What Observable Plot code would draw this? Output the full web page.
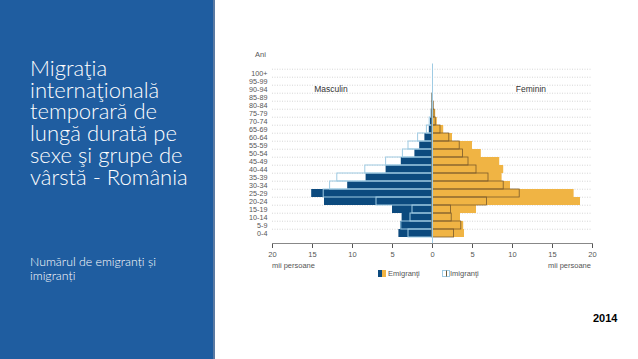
<!DOCTYPE html>
<html><head><meta charset="utf-8">
<script src="https://cdn.jsdelivr.net/npm/d3@7"></script>
<script src="https://cdn.jsdelivr.net/npm/@observablehq/plot@0.6"></script>
<style>
body{margin:0;width:638px;height:359px;position:relative;overflow:hidden;background:#fff;font-family:"Liberation Sans",Arial,sans-serif}
#panel{position:absolute;left:0;top:0;width:213px;height:359px;background:#1f5da0;border-right:2px solid #5a7aa3}
#title{position:absolute;left:30px;top:57px;color:#fff;font-family:Lato,"Open Sans",sans-serif;font-weight:300;font-size:22px;line-height:21.7px;white-space:nowrap}
#sub{position:absolute;left:30px;top:255px;color:#fff;font-family:Lato,"Open Sans",sans-serif;font-weight:300;font-size:12.3px;line-height:14.3px;white-space:nowrap}
#chart{position:absolute;left:230px;top:40px}
.lab{position:absolute;font-size:7.5px;color:#555;white-space:nowrap}
#year{position:absolute;left:593px;top:312px;font-size:11px;font-weight:bold;color:#000;font-family:"Liberation Sans",Arial,sans-serif}
.sw{display:inline-block;width:4px;height:7px;vertical-align:-1px}
</style></head>
<body>
<div id="panel"></div>
<div id="title">Migraţia<br>internaţională<br>temporară de<br>lungă durată pe<br>sexe şi grupe de<br>vârstă - România</div>
<div id="sub">Numărul de emigranți și<br>imigranți</div>
<div id="chart"></div>
<div class="lab" style="left:255px;top:50px">Ani</div>
<div class="lab" style="left:272px;top:261px">mii persoane</div>
<div class="lab" style="left:548px;top:261px">mii persoane</div>
<div class="lab" style="left:378px;top:269px"><span class="sw" style="background:#0c4a7e"></span><span class="sw" style="background:#f0b444"></span> Emigranţi</div>
<div class="lab" style="left:442px;top:269px"><span class="sw" style="box-sizing:border-box;border:1px solid #9fcbe3;border-right:none"></span><span class="sw" style="box-sizing:border-box;border:1px solid #9fcbe3;border-left:1px solid #6b5a3a"></span>Imigranţi</div>
<div id="year">2014</div>
<script>
const ages = ["0-4","5-9","10-14","15-19","20-24","25-29","30-34","35-39","40-44","45-49","50-54","55-59","60-64","65-69","70-74","75-79","80-84","85-89","90-94","95-99","100+"];
const maleEmigrants   = [4.2,4.0,3.8,5.0,13.5,15.1,10.6,8.3,5.8,3.9,2.2,1.6,0.95,0.4,0.25,0.12,0.05,0.02,0,0,0];
const maleImmigrants  = [3.0,3.9,2.75,2.5,7.0,13.6,12.8,11.9,8.4,5.8,3.7,3.0,1.8,0.7,0.35,0.15,0.05,0.02,0,0,0];
const femaleEmigrants = [4.0,3.9,3.5,5.5,18.5,17.7,9.75,8.7,8.9,8.4,6.1,5.0,2.5,1.4,0.6,0.4,0.15,0.05,0,0,0];
const femaleImmigrants= [2.7,3.6,2.4,2.3,6.8,10.9,8.9,7.0,5.5,4.5,3.8,3.4,2.1,1.0,0.4,0.25,0.15,0.03,0,0,0];
const xTicks = [-20,-15,-10,-5,0,5,10,15,20];
const sexLabels = [{x:-12.7, age:"90-94", text:"Masculin"},{x:12.3, age:"90-94", text:"Feminin"}];

const rows = ages.map((a,i)=>({age:a, me:-maleEmigrants[i], mi:-maleImmigrants[i], fe:femaleEmigrants[i], fi:femaleImmigrants[i]}));
const mT = 23.5, mB = 47, H = 250;
const bw = (H - mT - mB) / ages.length;

const plot = Plot.plot({
  width: 380, height: H,
  marginLeft: 42, marginRight: 18, marginTop: mT, marginBottom: mB,
  style: {fontFamily: '"Liberation Sans", Arial, sans-serif', background: "transparent"},
  x: {domain: [-20, 20]},
  y: {type: "band", domain: ages.slice().reverse(), padding: 0},
  marks: [
    Plot.ruleY(ages, {y: d => d, dy: -bw/2, stroke: "#ccc", strokeDasharray: "1,1.5", strokeWidth: 0.8}),
    Plot.barX(rows, {y: "age", x: "me", fill: "#0c4a7e", inset: 0}),
    Plot.barX(rows, {y: "age", x: "fe", fill: "#f0b444", inset: 0}),
    Plot.barX(rows, {y: "age", x: "mi", fill: "none", stroke: "#9fcbe3", strokeWidth: 1, inset: 0}),
    Plot.barX(rows, {y: "age", x: "fi", fill: "none", stroke: "#7a5a2c", strokeWidth: 0.8, inset: 0}),
    Plot.ruleX([0], {stroke: "#9fcbe3", strokeWidth: 1}),
    Plot.text(sexLabels, {x: "x", y: "age", text: "text", fontSize: 8.5, fill: "#333"}),
    Plot.axisY({tickSize: 0, tickPadding: 5, fontSize: 7.2, color: "#555", label: null}),
    Plot.axisX({ticks: xTicks, tickFormat: d => Math.abs(d), tickSize: 5, tickPadding: 3, fontSize: 7.5, color: "#555", label: null}),
    Plot.frame({anchor: "bottom", stroke: "#888"})
  ]
});
document.getElementById("chart").appendChild(plot);
</script>
</body></html>
